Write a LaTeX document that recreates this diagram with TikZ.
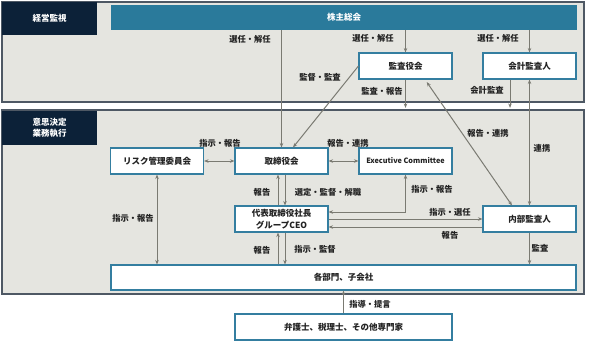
\documentclass[tikz,border=0pt]{standalone}
\usepackage{fontspec}
\setmainfont{Noto Sans CJK JP}
\usetikzlibrary{arrows.meta}

\definecolor{panelgray}{RGB}{229,229,224}
\definecolor{panelline}{RGB}{78,88,100}
\definecolor{navy}{RGB}{12,33,56}
\definecolor{teal}{RGB}{42,122,155}
\definecolor{boxline}{RGB}{52,126,160}
\definecolor{linegray}{RGB}{122,122,114}
\definecolor{labeltext}{RGB}{34,34,34}

\tikzset{
  panel/.style={draw=panelline, line width=1.2pt, fill=panelgray, inner sep=0pt},
  tab/.style={fill=navy, text=white, font=\bfseries\fontsize{8.5}{11.5}\selectfont,
    align=center, inner sep=0pt, minimum width=95pt},
  unit/.style={draw=boxline, line width=1.1pt, fill=white, text=labeltext,
    minimum width=93pt, minimum height=26pt, inner sep=0pt, align=center,
    font=\bfseries\fontsize{8.5}{12}\selectfont},
  conn/.style={draw=linegray, line width=1pt},
  arr/.style={conn, -{Stealth[length=4.5pt,width=3.5pt]}},
  darr/.style={conn, {Stealth[length=4.5pt,width=3.5pt]}-{Stealth[length=4.5pt,width=3.5pt]}},
  lbl/.style={font=\bfseries\fontsize{8.3}{10}\selectfont, text=labeltext, inner sep=0pt}
}

\begin{document}
\begin{tikzpicture}[x=1pt,y=-1pt]
    \useasboundingbox (0,0) rectangle (593,341);

    % Panels
    \node[panel, minimum width=582pt, minimum height=100pt] (top) at (293,52) {};
    \node[panel, minimum width=582pt, minimum height=184pt] (exe) at (293,202) {};
    \node[tab, minimum height=33pt] (toptab) at (49.5,18.5) {経営監視};
    \node[tab, minimum height=34pt] (exetab) at (49.5,128) {意思決定\\業務執行};

    % Boxes
    \node[fill=teal, text=white, font=\bfseries\fontsize{8.5}{11}\selectfont,
      minimum width=466pt, minimum height=25pt, inner sep=0pt] (gm) at (344,17.5) {株主総会};
    \node[unit] (kansa) at (405.5,66) {監査役会};
    \node[unit] (kaikei) at (529.5,66) {会計監査人};
    \node[unit] (risk) at (157,161) {リスク管理委員会};
    \node[unit] (bod) at (281.5,161) {取締役会};
    \node[unit, font=\bfseries\fontsize{7.3}{9}\selectfont] (exec) at (405.5,161) {Executive Committee};
    \node[unit] (ceo) at (281.5,219) {代表取締役社長\\グループCEO};
    \node[unit] (naibu) at (529.5,219) {内部監査人};
    \node[unit, minimum width=465pt, minimum height=25pt] (depts) at (343.5,277.5) {各部門、子会社};
    \node[unit, minimum width=217pt] (ben) at (343.5,327) {弁護士、税理士、その他専門家};

    % Shareholders
    \draw[arr] (gm.south -| bod.north) -- (bod.north);
    \draw[arr] (gm.south -| kansa.north) -- (kansa.north);
    \draw[arr] (gm.south -| kaikei.north) -- (kaikei.north);
    \node[lbl] (l1) at (250,39) {選任・解任};
    \node[lbl] (l2) at (373,38) {選任・解任};
    \node[lbl] (l3) at (498,38) {選任・解任};

    % Audit
    \draw[arr] (kansa.west) -- ([xshift=11.5pt]bod.north);
    \node[lbl] (l4) at (320,77) {監督・監査};
    \draw[arr, shorten >=1.5pt] (kansa.south) -- (kansa.south |- exe.north);
    \node[lbl] (l5) at (382,91) {監査・報告};
    \draw[arr, shorten >=1.5pt] ([xshift=-19.5pt]kaikei.south) -- ([xshift=-19.5pt]kaikei.south |- exe.north);
    \node[lbl] (l6) at (487,90) {会計監査};
    \draw[darr] (kaikei.south) -- (naibu.north);
    \node[lbl] (l7) at (542,148) {連携};
    \draw[darr, shorten <=3pt] ([xshift=19.5pt]kansa.south) -- ([xshift=-17.5pt]naibu.north);
    \node[lbl] (l8) at (488,133) {報告・連携};

    % Board
    \draw[darr] (risk.east) -- (bod.west);
    \node[lbl] (l9) at (220,143) {指示・報告};
    \draw[darr] (bod.east) -- (exec.west);
    \node[lbl] (l10) at (348,143) {報告・連携};
    \draw[arr] ([xshift=-3.5pt]ceo.north) -- ([xshift=-3.5pt]bod.south);
    \draw[arr] ([xshift=3.5pt]bod.south) -- ([xshift=3.5pt]ceo.north);
    \node[lbl] (l11) at (262,192) {報告};
    \node[lbl] (l12) at (328,192) {選定・監督・解職};

    % CEO
    \draw[darr] ([yshift=7pt]ceo.east) -| (exec.south);
    \node[lbl] (l13) at (432,189) {指示・報告};
    \draw[arr] (ceo.east) -- (naibu.west);
    \node[lbl] (l14) at (450,212) {指示・選任};
    \draw[arr] ([yshift=-8pt]naibu.west) -- ([yshift=-8pt]ceo.east);
    \node[lbl] (l15) at (450,235) {報告};
    \draw[arr] ([xshift=-3.5pt]depts.north -| ceo.south) -- ([xshift=-3.5pt]ceo.south);
    \draw[arr] ([xshift=3.5pt]ceo.south) -- ([xshift=3.5pt]depts.north -| ceo.south);
    \node[lbl] (l16) at (262,250) {報告};
    \node[lbl] (l17) at (315,249) {指示・監督};

    % Departments
    \draw[darr] (risk.south) -- (risk.south |- depts.north);
    \node[lbl] (l18) at (133,218) {指示・報告};
    \draw[arr] (naibu.south) -- (naibu.south |- depts.north);
    \node[lbl] (l19) at (540,248) {監査};
    \draw[arr] (ben.north) -- (ben.north |- depts.south);
    \node[lbl] (l20) at (370,304) {指導・提言};

\end{tikzpicture}
\end{document}
